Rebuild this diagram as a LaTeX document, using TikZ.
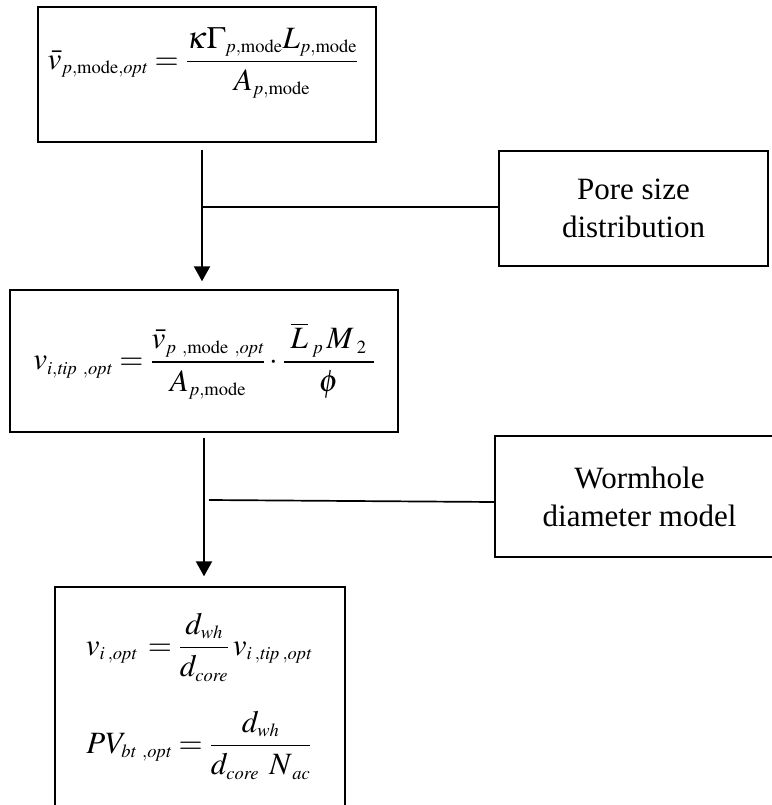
\documentclass[tikz,border=0pt]{standalone}
\usepackage{amsmath}
\usepackage{mathptmx}
\usepackage[no-math]{fontspec}
\setmainfont{Liberation Serif}
\usetikzlibrary{arrows.meta}
% large formula size with compact sub-/superscripts
\DeclareMathSizes{31}{31}{18.5}{14}
\newcommand{\sgap}{\mkern6mu}
\newcommand{\tgap}{\mkern3mu}
\begin{document}
\begin{tikzpicture}[x=1pt,y=-1pt,
  frame/.style={draw=black,line width=1.4pt,rectangle,inner sep=0pt},
  mathlbl/.style={font=\fontsize{31}{37}\selectfont,inner sep=0pt},
  txtlbl/.style={font=\fontsize{31}{38}\selectfont,align=center},
  flow/.style={line width=2.2pt,-{Triangle[length=15pt,width=16pt]}},
  link/.style={line width=1.7pt}]
\useasboundingbox (0,0) rectangle (771,805);

% boxes of the chain
\node[frame,minimum width=338pt,minimum height=135pt] (b1) at (207,74.5) {};
\node[frame,minimum width=388pt,minimum height=142pt] (b2) at (204,361) {};
\node[frame,minimum width=290pt,minimum height=243pt] (b3) at (200,708.5) {};

% side inputs
\node[frame,txtlbl,minimum width=269pt,minimum height=115pt] (pore) at (633.5,208.5) {Pore size\\distribution};
\node[frame,txtlbl,minimum width=289pt,minimum height=121pt] (worm) at (639.5,496.5) {Wormhole\\diameter model};

% formulas
\node[mathlbl] (f1) at (203,63)
  {$\displaystyle \bar{v}_{p,\mathrm{mode},\mathit{opt}} = \frac{\kappa\Gamma_{p,\mathrm{mode}}L_{p,\mathrm{mode}}}{A_{p,\mathrm{mode}}}$};
\node[mathlbl] (f2) at (204,361)
  {$\displaystyle v_{i,\mathit{tip}\sgap,\mathit{opt}} = \frac{\bar{v}_{p\sgap,\mathrm{mode}\sgap,\mathit{opt}}}{A_{p,\mathrm{mode}}}\cdot\frac{\;\overline{L}_{\mkern4mu p}\,M_{\mkern5mu 2}\;}{\phi}$};
\node[mathlbl] (f3a) at (199,647)
  {$\displaystyle v_{i\tgap,\mathit{opt}} \mkern2mu = \frac{d_{\mathit{wh}}}{d_{\mathit{core}}}\mkern2mu v_{i\tgap,\mathit{tip}\tgap,\mathit{opt}}$};
\node[mathlbl] (f3b) at (199,745)
  {$\displaystyle PV_{\mathit{bt}\sgap,\mathit{opt}} = \frac{d_{\mathit{wh}}}{d_{\mathit{core}}\mkern6mu N_{\tgap\mathit{ac}}}$};

% junctions where the side inputs join the flow
\coordinate (j1) at (202,207);
\coordinate (j2) at (209,500);

% flow arrows
\draw[flow,shorten <=7pt,shorten >=8pt] (b1.south -| j1) -- (b2.north -| j1);
\draw[flow,shorten <=5pt,shorten >=10pt] (b2.south) -- (b3.north -| b2.south);

% side links
\draw[link] (j1) -- (pore.west |- j1);
\draw[link] (j2) -- ([yshift=-5.5pt]worm.west);
\end{tikzpicture}
\end{document}
